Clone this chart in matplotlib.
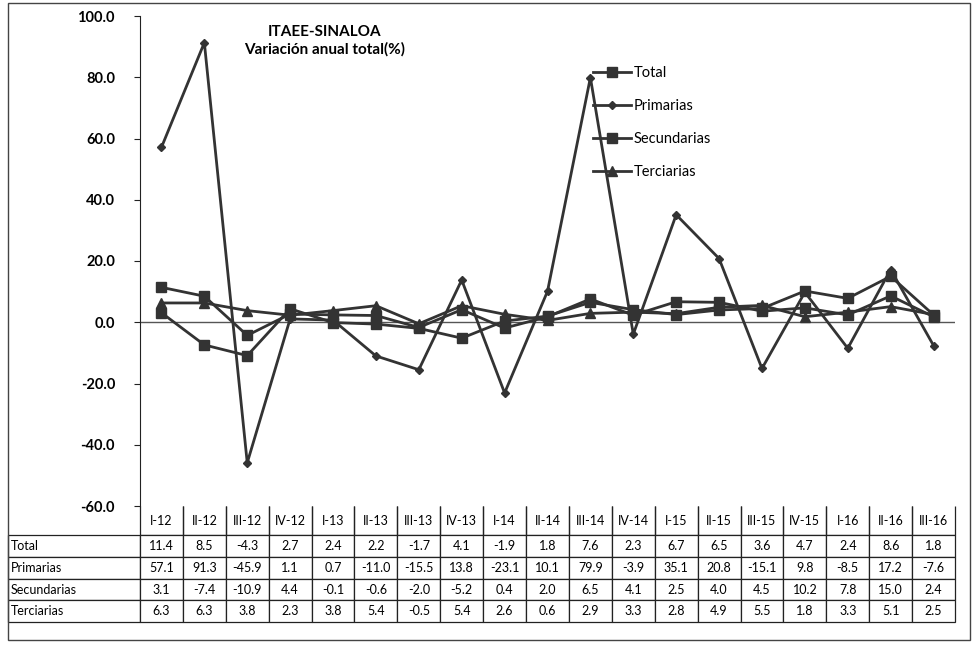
import numpy as np
import matplotlib
matplotlib.use('Agg')
import matplotlib.pyplot as plt
from matplotlib.patches import Rectangle

plt.rcParams['font.family'] = ['Lato', 'DejaVu Sans']

quarters = ['I-12', 'II-12', 'III-12', 'IV-12', 'I-13', 'II-13', 'III-13', 'IV-13',
            'I-14', 'II-14', 'III-14', 'IV-14', 'I-15', 'II-15', 'III-15', 'IV-15',
            'I-16', 'II-16', 'III-16']

total = [11.4, 8.5, -4.3, 2.7, 2.4, 2.2, -1.7, 4.1, -1.9, 1.8, 7.6, 2.3, 6.7, 6.5, 3.6, 4.7, 2.4, 8.6, 1.8]
primarias = [57.1, 91.3, -45.9, 1.1, 0.7, -11.0, -15.5, 13.8, -23.1, 10.1, 79.9, -3.9, 35.1, 20.8, -15.1, 9.8, -8.5, 17.2, -7.6]
secundarias = [3.1, -7.4, -10.9, 4.4, -0.1, -0.6, -2.0, -5.2, 0.4, 2.0, 6.5, 4.1, 2.5, 4.0, 4.5, 10.2, 7.8, 15.0, 2.4]
terciarias = [6.3, 6.3, 3.8, 2.3, 3.8, 5.4, -0.5, 5.4, 2.6, 0.6, 2.9, 3.3, 2.8, 4.9, 5.5, 1.8, 3.3, 5.1, 2.5]

series_names = ['Total', 'Primarias', 'Secundarias', 'Terciarias']
series_values = [total, primarias, secundarias, terciarias]
markers = ['s', 'D', 's', '^']
msizes = [6.5, 4.5, 6.5, 6.5]

W, H = 972, 657
fig = plt.figure(figsize=(W / 100, H / 100), dpi=100)
ax = fig.add_axes([140 / W, 1 - 506 / H, 815 / W, 490 / H])

line_col = '#333333'
x = np.arange(len(quarters))
for name, vals, m, ms in zip(series_names, series_values, markers, msizes):
    ax.plot(x, vals, color=line_col, lw=2, marker=m, markersize=ms, label=name)

ax.axhline(0, color='#555555', lw=1, zorder=0)
ax.set_xlim(-0.5, len(quarters) - 0.5)
ax.set_ylim(-60, 100)
ax.set_yticks(np.arange(-60, 101, 20))
ax.set_yticklabels([f'{v:.1f}' for v in np.arange(-60, 101, 20)], fontweight='bold', fontsize=10.5)
ax.set_xticks([])
for s in ['top', 'right', 'bottom']:
    ax.spines[s].set_visible(False)
ax.spines['left'].set_color('#222222')
ax.tick_params(axis='y', length=4, color='#222222', pad=14)

ax.text(0.227, 0.982, 'ITAEE-SINALOA\nVariación anual total(%)', transform=ax.transAxes,
        ha='center', va='top', fontsize=11, fontweight='bold', linespacing=1.3)

leg = ax.legend(loc='upper left', bbox_to_anchor=(0.54, 0.925), frameon=False,
                handlelength=2.6, labelspacing=1.3, fontsize=10.5, handletextpad=0.2)

# data table below the plot
cell_text = [[''] + quarters]
for name, vals in zip(series_names, series_values):
    cell_text.append([name] + [f'{v:.1f}' for v in vals])

left = (8 - 140) / 815
tab_h = (622 - 506) / 490
tbl = ax.table(cellText=cell_text, cellLoc='center', bbox=[left, -tab_h, 1 - left, tab_h])
tbl.auto_set_font_size(False)
tbl.set_fontsize(9)
for (r, c), cell in tbl.get_celld().items():
    cell.set_width(132 if c == 0 else 815 / 19)
    cell.set_height(30 if r == 0 else 22)
    cell.set_linewidth(0.9)
    cell.set_edgecolor('#222222')
    if r == 0:
        cell.visible_edges = '' if c == 0 else 'LRB'
    if c == 0 and r > 0:
        cell.get_text().set_ha('left')
        cell.PAD = 0.02

fig.patches.append(Rectangle((8 / W, 1 - 640 / H), 962 / W, 637 / H, transform=fig.transFigure,
                             fill=False, edgecolor='#444444', lw=1))

fig.savefig('out.png', dpi=100)
